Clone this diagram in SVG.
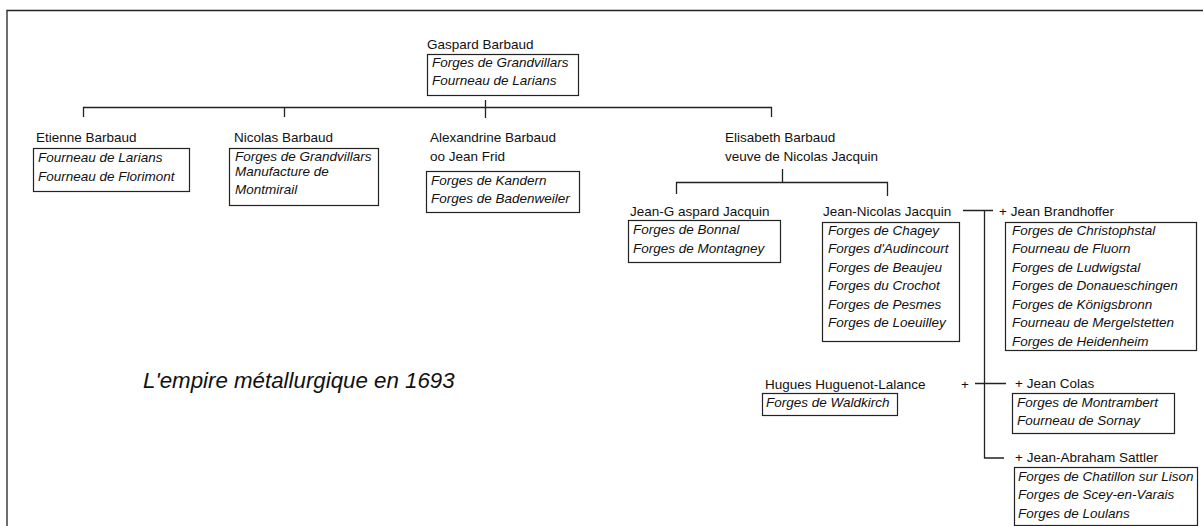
<svg xmlns="http://www.w3.org/2000/svg" width="1203" height="526" viewBox="0 0 1203 526">
<style>
.n{font-family:"Liberation Sans",Arial,sans-serif;font-size:13.5px;fill:#111}
.i{font-family:"Liberation Sans",Arial,sans-serif;font-size:13.5px;font-style:italic;fill:#111}
.b{fill:#fff;stroke:#222;stroke-width:1.2}
.c{fill:none;stroke:#222;stroke-width:1.3}
.t{font-family:"Liberation Sans",Arial,sans-serif;font-size:22.3px;font-style:italic;fill:#111}
</style>
<rect width="1203" height="526" fill="#fff"/>
<path class="c" d="M7,526 V10.5 H1203" stroke-width="1.6"/>
<g id="connectors">
<path class="c" d="M485.5,100 V118 M83.5,117 V107.5 H771.5 V117 M284.5,107.5 V117"/>
<path class="c" d="M782.5,169 V182.5 M676.5,194 V182.5 H887.5 V196"/>
<path class="c" d="M963,210.5 H993 M984.5,210.5 V458 H1004 M975,383.5 H1006"/>
</g>
<g id="gaspard">
<text class="n" x="427" y="49">Gaspard Barbaud</text>
<rect class="b" x="427.5" y="54.5" width="151" height="41"/>
<text class="i" x="432" y="67">Forges de Grandvillars</text>
<text class="i" x="432" y="85">Fourneau de Larians</text>
</g>
<g id="etienne">
<text class="n" x="36" y="142">Etienne Barbaud</text>
<rect class="b" x="33.5" y="148.5" width="156" height="43"/>
<text class="i" x="38" y="162">Fourneau de Larians</text>
<text class="i" x="38" y="181">Fourneau de Florimont</text>
</g>
<g id="nicolas">
<text class="n" x="234" y="142">Nicolas Barbaud</text>
<rect class="b" x="229.5" y="148.5" width="149" height="57"/>
<text class="i" x="235" y="161">Forges de Grandvillars</text>
<text class="i" x="235" y="176">Manufacture de</text>
<text class="i" x="235" y="194">Montmirail</text>
</g>
<g id="alexandrine">
<text class="n" x="430" y="142">Alexandrine Barbaud</text>
<text class="n" x="430" y="161">oo Jean Frid</text>
<rect class="b" x="426.5" y="171.5" width="153" height="41"/>
<text class="i" x="431" y="185">Forges de Kandern</text>
<text class="i" x="431" y="203">Forges de Badenweiler</text>
</g>
<g id="elisabeth">
<text class="n" x="725" y="142">Elisabeth Barbaud</text>
<text class="n" x="725" y="161">veuve de Nicolas Jacquin</text>
</g>
<g id="jean-gaspard">
<text class="n" x="630" y="216">Jean-G aspard Jacquin</text>
<rect class="b" x="628.5" y="220.5" width="152" height="42"/>
<text class="i" x="633" y="234">Forges de Bonnal</text>
<text class="i" x="633" y="253">Forges de Montagney</text>
</g>
<g id="jean-nicolas">
<text class="n" x="823" y="216">Jean-Nicolas Jacquin</text>
<rect class="b" x="822.5" y="222.5" width="137" height="119"/>
<text class="i" x="828" y="235">Forges de Chagey</text>
<text class="i" x="828" y="253">Forges d'Audincourt</text>
<text class="i" x="828" y="272">Forges de Beaujeu</text>
<text class="i" x="828" y="290">Forges du Crochot</text>
<text class="i" x="828" y="309">Forges de Pesmes</text>
<text class="i" x="828" y="327">Forges de Loeuilley</text>
</g>
<g id="brandhoffer">
<text class="n" x="999" y="216">+ Jean Brandhoffer</text>
<rect class="b" x="1005.5" y="222.5" width="191" height="128"/>
<text class="i" x="1012" y="235">Forges de Christophstal</text>
<text class="i" x="1012" y="253">Fourneau de Fluorn</text>
<text class="i" x="1012" y="272">Forges de Ludwigstal</text>
<text class="i" x="1012" y="290">Forges de Donaueschingen</text>
<text class="i" x="1012" y="309">Forges de Königsbronn</text>
<text class="i" x="1012" y="327">Fourneau de Mergelstetten</text>
<text class="i" x="1012" y="346">Forges de Heidenheim</text>
</g>
<g id="hugues">
<text class="n" x="765" y="389">Hugues Huguenot-Lalance</text>
<rect class="b" x="762.5" y="393.5" width="135" height="22"/>
<text class="i" x="766" y="407">Forges de Waldkirch</text>
<text class="n" x="961" y="389">+</text>
</g>
<g id="colas">
<text class="n" x="1015" y="388">+ Jean Colas</text>
<rect class="b" x="1012.5" y="393.5" width="162" height="40"/>
<text class="i" x="1017" y="407">Forges de Montrambert</text>
<text class="i" x="1017" y="425">Fourneau de Sornay</text>
</g>
<g id="sattler">
<text class="n" x="1015" y="462">+ Jean-Abraham Sattler</text>
<rect class="b" x="1014.5" y="467.5" width="183" height="58"/>
<text class="i" x="1018" y="481">Forges de Chatillon sur Lison</text>
<text class="i" x="1018" y="499">Forges de Scey-en-Varais</text>
<text class="i" x="1018" y="518">Forges de Loulans</text>
</g>
<text class="t" x="143" y="388">L'empire métallurgique en 1693</text>
</svg>
